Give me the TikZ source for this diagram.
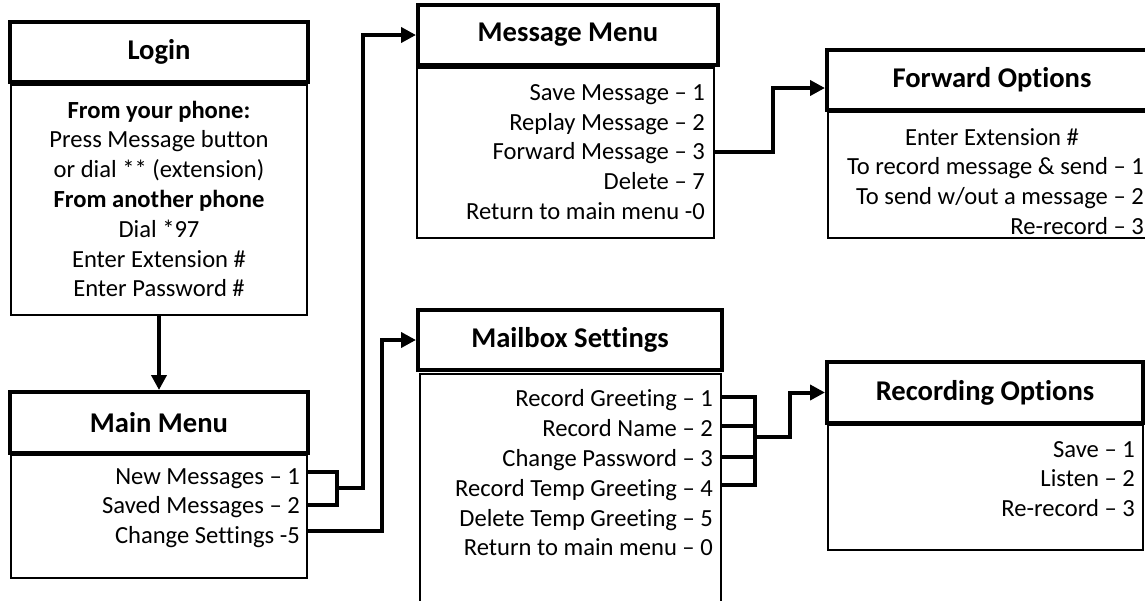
\documentclass[tikz,border=0pt]{standalone}
\usepackage{fontspec}
\setmainfont{Carlito}[Ligatures={TeX,NoCommon}]
\usetikzlibrary{arrows.meta, calc}

\tikzset{
  head/.style={draw, line width=4pt, font=\bfseries\fontsize{28.6}{34}\selectfont},
  body/.style={draw, line width=1.5pt},
  menutext/.style={font=\fontsize{24.6}{29.8}\selectfont, inner sep=0pt},
  conn/.style={line width=4pt},
  arrowto/.style={-{Triangle[length=15pt,width=15pt]}}
}

\begin{document}
\begin{tikzpicture}[x=1pt, y=-1pt]
\useasboundingbox (0,0) rectangle (1145,600);
\clip (0,0) rectangle (1145,600);

% Login
\node[head, minimum width=298pt, minimum height=60pt] (loginhead) at (159,52) {Login};
\node[body, minimum width=296pt, minimum height=230pt] (loginbody) at (159,200) {};
\node[menutext, align=center] (logintext) at (159,199) {\textbf{From your phone:}\\
    Press Message button\\ or dial ** (extension)\\ \textbf{From another phone}\\
    Dial *97\\ Enter Extension \#\\ Enter Password \#};

% Main menu
\node[head, minimum width=298pt, minimum height=61pt] (mainhead) at (159,422.5) {Main Menu};
\node[body, minimum width=296pt, minimum height=123pt] (mainbody) at (159,516.5) {};
\node[menutext, align=right, anchor=east] (maintext) at (300,508) {New Messages -- 1\\
    Saved Messages -- 2\\ Change Settings -5};

% Message menu
\node[head, minimum width=300pt, minimum height=60pt] (msghead) at (568,35) {Message Menu};
\node[body, minimum width=297pt, minimum height=170pt] (msgbody) at (565.5,153) {};
\node[menutext, align=right, anchor=east] (msgtext) at (705,152) {Save Message -- 1\\
    Replay Message -- 2\\ Forward Message -- 3\\ Delete -- 7\\ Return to main menu -0};

% Mailbox settings
\node[head, minimum width=304pt, minimum height=60pt] (mailhead) at (570,340) {Mailbox Settings};
\node[body, minimum width=301pt, minimum height=266pt] (mailbody) at (570.5,507) {};
\node[menutext, align=right, anchor=east] (mailtext) at (713,473) {Record Greeting -- 1\\
    Record Name -- 2\\ Change Password -- 3\\ Record Temp Greeting -- 4\\
    Delete Temp Greeting -- 5\\ Return to main menu -- 0};

% Forward options
\node[head, minimum width=330pt, minimum height=60pt] (fwdhead) at (992,80) {Forward Options};
\node[body, minimum width=329pt, minimum height=126pt] (fwdbody) at (992.5,175) {};
\node[menutext] (fwdfirst) at (992,137) {Enter Extension \#};
\node[menutext, align=right, anchor=east] (fwdtext) at (1144,196) {To record message \& send -- 1\\
    To send w/out a message -- 2\\ Re-record -- 3};

% Recording options
\node[head, minimum width=316pt, minimum height=61pt] (rechead) at (985,392.5) {Recording Options};
\node[body, minimum width=315pt, minimum height=125pt] (recbody) at (985.5,487.5) {};
\node[menutext, align=right, anchor=east] (rectext) at (1135,479) {Save -- 1\\ Listen -- 2\\ Re-record -- 3};

% line ends
\coordinate (newmsg) at (mainbody.east |- 0,472);
\coordinate (savedmsg) at (mainbody.east |- 0,505);
\coordinate (chgset) at (mainbody.east |- 0,531);
\coordinate (mainjoin) at (337,488);
\coordinate (fwdmsg) at (msgbody.east |- 0,152);
\coordinate (recgreet) at (mailbody.east |- 0,397);
\coordinate (recname) at (mailbody.east |- 0,426);
\coordinate (chgpass) at (mailbody.east |- 0,457);
\coordinate (tmpgreet) at (mailbody.east |- 0,485);
\coordinate (mailjoin) at (754,437);

% connectors
\draw[conn, arrowto] (loginbody) -- (mainhead);
\draw[conn] (newmsg) -- ++(29,0) |- (savedmsg);
\draw[conn, arrowto] (mainjoin) -- ++(26,0) |- (msghead.west);
\draw[conn, arrowto] (chgset) -- ++(74,0) |- (mailhead.west);
\draw[conn, arrowto] (fwdmsg) -- ++(58,0) |- ($(fwdhead.west)+(0,8)$);
\draw[conn] (recgreet) -- ++(33,0) |- (tmpgreet);
\draw[conn] (recname) -- ++(33,0);
\draw[conn] (chgpass) -- ++(33,0);
\draw[conn, arrowto] (mailjoin) -- ++(36,0) |- (rechead.west);
\end{tikzpicture}
\end{document}
